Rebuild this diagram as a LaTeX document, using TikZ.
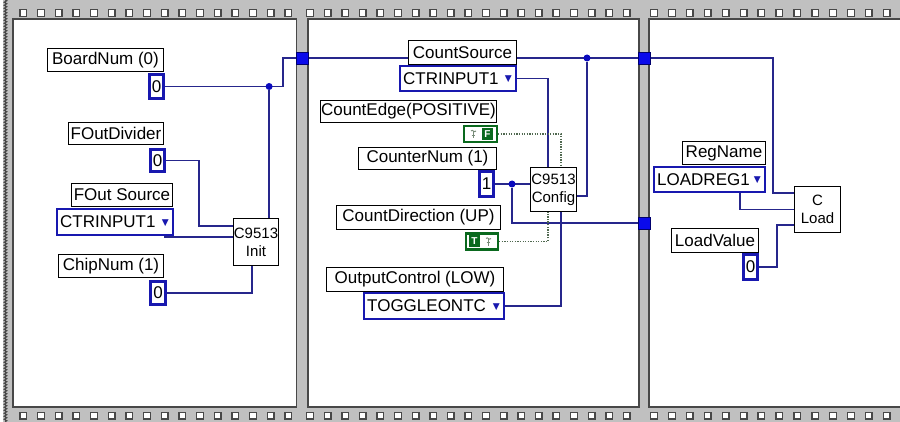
\documentclass[tikz,border=0pt]{standalone}
\usepackage{fontspec}
\setmainfont{Liberation Sans}
\newfontfamily\symfont{DejaVu Sans}
\usetikzlibrary{calc,decorations.pathmorphing}
\pgfdeclarelayer{framelayer}
\pgfdeclarelayer{wirelayer}
\pgfsetlayers{framelayer,wirelayer,main}
\definecolor{stripgray}{RGB}{192,192,192}
\definecolor{framedark}{RGB}{72,72,72}
\definecolor{wireblue}{RGB}{38,38,140}
\definecolor{constblue}{RGB}{24,24,175}
\definecolor{tunblue}{RGB}{10,10,235}
\definecolor{tunedge}{RGB}{0,0,110}
\definecolor{dotblue}{RGB}{10,10,190}
\definecolor{boolgreen}{RGB}{10,105,30}
\definecolor{boolwire}{RGB}{80,105,80}
\definecolor{iconcol}{RGB}{120,140,120}
\newcommand{\ringtri}{\raisebox{2.5pt}{\symfont\fontsize{9}{9}\selectfont\textcolor{constblue}{▼}}}
\newcommand{\ringtext}[2]{\hbox to #1pt{#2\hfill\ringtri\hspace{1pt}}}
\begin{document}
\begin{tikzpicture}[x=1pt,y=-1pt,
  lbl/.style={draw=black, line width=0.9pt, fill=white, inner sep=0pt, font=\fontsize{17}{17}\selectfont},
  cst/.style={draw=constblue, line width=2.8pt, fill=white, inner sep=0pt, font=\fontsize{17}{17}\selectfont},
  ring/.style={draw=constblue, line width=2.5pt, fill=white, inner sep=0pt, inner xsep=3pt, font=\fontsize{17}{17}\selectfont},
  fn/.style={draw=black, line width=0.9pt, fill=white, inner sep=0pt, align=center, font=\fontsize{15}{18}\selectfont},
  boolbox/.style={draw=boolgreen, line width=2.2pt, fill=white, inner sep=0pt},
  bsq/.style={fill=boolgreen, text=white, inner sep=0pt, minimum width=11pt, minimum height=12pt, font=\bfseries\fontsize{10}{10}\selectfont},
  wire/.style={draw=wireblue, line width=1.6pt},
  bwire/.style={draw=boolwire, line width=1.6pt, dash pattern=on 1.3pt off 1.3pt},
  tun/.style={fill=tunblue, draw=tunedge, line width=0.8pt, minimum size=12pt, inner sep=0pt},
  jdot/.style={circle, fill=dotblue, inner sep=0pt, minimum size=7pt},
  frameline/.style={fill=white, draw=framedark, line width=1.8pt},
  sq/.style={draw=framedark, fill=white, line width=1.4pt},
  icon/.style={draw=iconcol, line width=0.9pt}
]
\useasboundingbox (0,0) rectangle (900,422);

\begin{pgfonlayer}{framelayer}
  \fill[stripgray] (0,0) rectangle (900,422);
  \fill[white] (0,0) rectangle (3,422);
  \draw[framedark, line width=1.2pt, decorate, decoration={zigzag,segment length=3pt,amplitude=1.2pt}] (5.5,0) -- (5.5,422);
  \draw[frameline] (13,19) rectangle (296.5,407);
  \draw[frameline] (308,19) rectangle (639,407);
  \draw[frameline] (649,19) rectangle (915,407);
  \foreach \k in {0,...,15} {
    \draw[sq] ({23.3+17.67*\k-3.3},9.7) rectangle ++(6.6,6.6);
    \draw[sq] ({23.3+17.67*\k-3.3},412.2) rectangle ++(6.6,6.6);
  }
  \foreach \k in {0,...,18} {
    \draw[sq] ({310+17.6*\k-3.3},9.7) rectangle ++(6.6,6.6);
    \draw[sq] ({310+17.6*\k-3.3},412.2) rectangle ++(6.6,6.6);
  }
  \foreach \k in {0,...,14} {
    \draw[sq] ({654+17.9*\k-3.3},9.7) rectangle ++(6.6,6.6);
    \draw[sq] ({654+17.9*\k-3.3},412.2) rectangle ++(6.6,6.6);
  }
\end{pgfonlayer}

% ---------- tunnels ----------
\node[tun] (T1) at (302,58) {};
\node[tun] (T2) at (644,58) {};
\node[tun] (T3) at (644,223) {};

% ---------- frame 1 ----------
\node[lbl, minimum width=116pt, minimum height=23pt] (lbBoard) at (105.5,60) {BoardNum (0)};
\node[cst, minimum width=14.4pt, minimum height=24.4pt] (cBoard) at (156.5,86.5) {0};
\node[lbl, minimum width=95pt, minimum height=22pt] (lbDiv) at (116,133) {FOutDivider};
\node[cst, minimum width=14.4pt, minimum height=22.4pt] (cDiv) at (157.5,160.5) {0};
\node[lbl, minimum width=101pt, minimum height=23pt] (lbSrc) at (122,195) {FOut Source};
\node[ring, minimum height=25.6pt] (rSrc) at (115,222) {\ringtext{109.6}{CTRINPUT1}};
\node[fn, minimum width=45pt, minimum height=47pt] (Init) at (256,242) {C9513\\Init};
\node[lbl, minimum width=105pt, minimum height=23pt] (lbChip) at (111,266) {ChipNum (1)};
\node[cst, minimum width=15.4pt, minimum height=23.4pt] (cChip) at (158,293) {0};
\node[jdot] (d1) at ($(cBoard.east)+(104,0)$) {};

% ---------- frame 2 ----------
\node[lbl, minimum width=108pt, minimum height=24pt] (lbCS) at (462.5,52.5) {CountSource};
\node[ring, minimum height=24.6pt] (rCS) at (458,78.5) {\ringtext{109.6}{CTRINPUT1}};
\node[lbl, minimum width=176pt, minimum height=22pt] (lbEdge) at (408.5,111.5) {CountEdge(POSITIVE)};
\node[boolbox, minimum width=33pt, minimum height=16pt] (bF) at (480.5,134) {};
\node[bsq] (bFs) at ($(bF.center)+(7,0)$) {F};
\coordinate (iconF) at ($(bF.center)+(-7,0)$);
\node[lbl, minimum width=138pt, minimum height=22pt] (lbCN) at (427.5,158.5) {CounterNum (1)};
\node[cst, minimum width=14.4pt, minimum height=24.4pt] (cCN) at (486.5,184) {1};
\node[fn, minimum width=46pt, minimum height=44pt] (Config) at (553.5,189.5) {C9513\\Config};
\node[lbl, minimum width=164pt, minimum height=24pt] (lbDir) at (418.5,217.5) {CountDirection (UP)};
\node[boolbox, minimum width=32pt, minimum height=16pt] (bT) at (482,241.5) {};
\node[bsq] (bTs) at ($(bT.center)+(-7.5,0)$) {T};
\coordinate (iconT) at ($(bT.center)+(6.5,0)$);
\node[lbl, minimum width=177pt, minimum height=24pt] (lbOC) at (415,279.5) {OutputControl (LOW)};
\node[ring, minimum height=25.6pt] (rOC) at (434,306) {\ringtext{133.6}{TOGGLEONTC}};
\node[jdot] (d2) at (512,184) {};
\node[jdot] (d3) at (587,58) {};

% ---------- frame 3 ----------
\node[lbl, minimum width=83pt, minimum height=23pt] (lbReg) at (724,153) {RegName};
\node[ring, minimum height=24.6pt] (rReg) at (709.5,179.5) {\ringtext{104.6}{LOADREG1}};
\node[fn, minimum width=46pt, minimum height=46pt] (Load) at (817.5,209.5) {C\\Load};
\node[lbl, minimum width=87pt, minimum height=24pt] (lbLV) at (715,240.5) {LoadValue};
\node[cst, minimum width=14.4pt, minimum height=25.4pt] (cLV) at (750.5,267) {0};

% ---------- toggle icons ----------
\foreach \c in {iconF,iconT} {
  \draw[icon] ($(\c)+(-2.5,-3)$) .. controls ($(\c)+(-1,-5.5)$) and ($(\c)+(0.5,-0.5)$) .. ($(\c)+(2.5,-3)$);
  \draw[icon] ($(\c)+(0,-2.5)$) -- ($(\c)+(0,4.5)$);
  \draw[icon] ($(\c)+(-2,1)$) -- ($(\c)+(1.5,1)$);
}

% ---------- wires ----------
\begin{pgfonlayer}{wirelayer}
  % frame 1
  \draw[wire] (cBoard.east) -- ++(118,0) |- (T1);
  \draw[wire] (d1) -- (d1 |- Init.north);
  \draw[wire] (cDiv.east) -- ++(33,0) |- ($(Init.west)+(0,-16)$);
  \draw[wire] ($(rSrc.south east)+(-10,1.2)$) coordinate (s1) -- (s1 -| Init.west);
  \draw[wire] (cChip.east) -| ($(Init.south)+(-4,0)$);
  % frame 2
  \draw[wire] (T1) -- (T2);
  \draw[wire] (rCS.east) -| ($(Config.north)+(-5.5,0)$);
  \draw[bwire] (bF.east) -| ($(Config.north)+(7.5,0)$);
  \draw[wire] (cCN.east) -- (Config.west |- cCN.east);
  \draw[wire] (d2) |- (T3);
  \draw[wire] (d3) |- ($(Config.east)+(0,6.5)$);
  \draw[bwire] (bT.east) -| ($(Config.south)+(-5.5,0)$);
  \draw[wire] (rOC.east) -| ($(Config.south)+(7.5,0)$);
  % frame 3
  \draw[wire] (T2) -- ++(129,0) |- ($(Load.west)+(0,-16.5)$);
  \draw[wire] ($(rReg.south)+(30.5,0)$) |- (Load.west);
  \draw[wire] (cLV.east) -- ++(18,0) |- ($(Load.west)+(0,15.5)$);
\end{pgfonlayer}
\end{tikzpicture}
\end{document}
